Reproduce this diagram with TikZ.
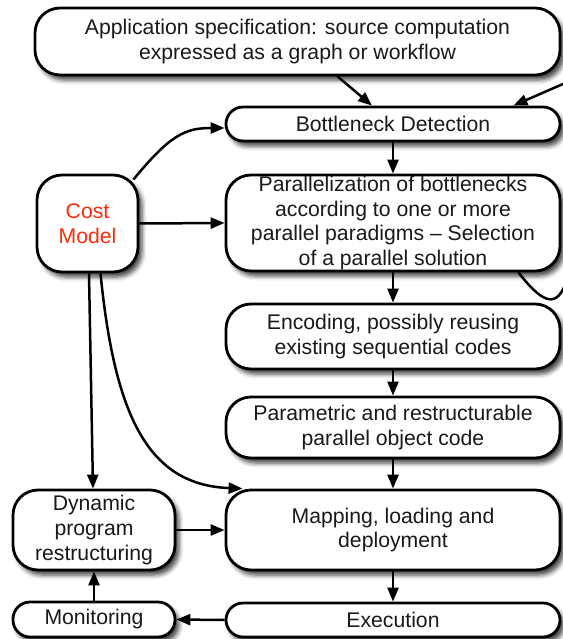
\documentclass[tikz,border=0pt]{standalone}
\usepackage{fontspec}
\setmainfont{Liberation Sans}
\usetikzlibrary{arrows.meta,shadows.blur}
\definecolor{costred}{RGB}{250,45,10}
\tikzset{
  box/.style={draw=black, line width=2.8bp, fill=white, rounded corners=25bp,
    align=center, inner sep=0pt, text=black!90,
    font=\fontsize{21.2bp}{24.6bp}\selectfont,
    blur shadow={shadow xshift=4bp, shadow yshift=-5bp,
      shadow blur radius=4.5bp, shadow opacity=75}},
  pill/.style={box, rounded corners=17bp},
  link/.style={line width=2.5bp, -{Triangle[length=14bp,width=11bp]}},
}
\begin{document}
\begin{tikzpicture}[x=1bp,y=-1bp]
\useasboundingbox (0,0) rectangle (563,639);
\clip (0,0) rectangle (563,639);

% main flow
\node[box, minimum width=525bp, minimum height=67bp] (spec) at (297.5,41.5)
  {Application specification: source computation\\expressed as a graph or workflow};
\node[pill, minimum width=334bp, minimum height=34bp] (bott) at (393,124)
  {Bottleneck Detection};
\node[box, minimum width=334bp, minimum height=96bp] (par) at (393,223)
  {Parallelization of bottlenecks\\according to one or more\\parallel paradigms – Selection\\of a parallel solution};
\node[box, minimum width=334bp, minimum height=65bp] (enc) at (393,336.5)
  {Encoding, possibly reusing\\existing sequential codes};
\node[box, minimum width=334bp, minimum height=61bp] (obj) at (393,427.5)
  {Parametric and restructurable\\parallel object code};
\node[box, minimum width=334bp, minimum height=80bp] (map) at (393,530)
  {Mapping, loading and\\deployment};
\node[pill, minimum width=334bp, minimum height=34bp] (exec) at (393,620)
  {Execution};

% left column
\node[box, text=costred, minimum width=101bp, minimum height=97bp] (cost) at (87.5,223.5)
  {Cost\\Model};
\node[box, minimum width=162bp, minimum height=80bp] (dyn) at (94,530)
  {Dynamic\\program\\restructuring};
\node[pill, minimum width=162bp, minimum height=35bp] (mon) at (94,619.5)
  {Monitoring};

% connectors
\draw[link] ([xshift=40bp]spec.south) -- ([xshift=-21bp]bott.north);
\draw[link] (bott.south) -- (par.north);
\draw[link] (par.south) -- (enc.north);
\draw[link] (enc.south) -- (obj.north);
\draw[link] (obj.south) -- (map.north);
\draw[link] (map.south) -- (exec.north);

\draw[link] ([xshift=-43bp]par.south east)
  .. controls (540,300) and (555,310) .. (565,285)
  .. controls (575,260) and (578,230) .. (578,200)
  -- (578,110)
  .. controls (578,90) and (574,79) .. (563,84)
  -- ([xshift=-48bp]bott.north east);

\draw[link] ([xshift=-6bp,yshift=-6bp]cost.north east)
  .. controls (170,135) and (185,128) .. ([yshift=-4bp]bott.west);
\draw[link] (cost.east) -- (par.west);
\draw[link] ([xshift=1.5bp]cost.south) -- ([xshift=-1bp]dyn.north);
\draw[link] ([xshift=13bp]cost.south)
  .. controls (115,420) and (150,485) .. ([xshift=18bp]map.north west);

\draw[link] (dyn.east) -- (map.west);
\draw[link] (exec.west) -- (mon.east);
\draw[link] (mon.north) -- (dyn.south);
\end{tikzpicture}
\end{document}
